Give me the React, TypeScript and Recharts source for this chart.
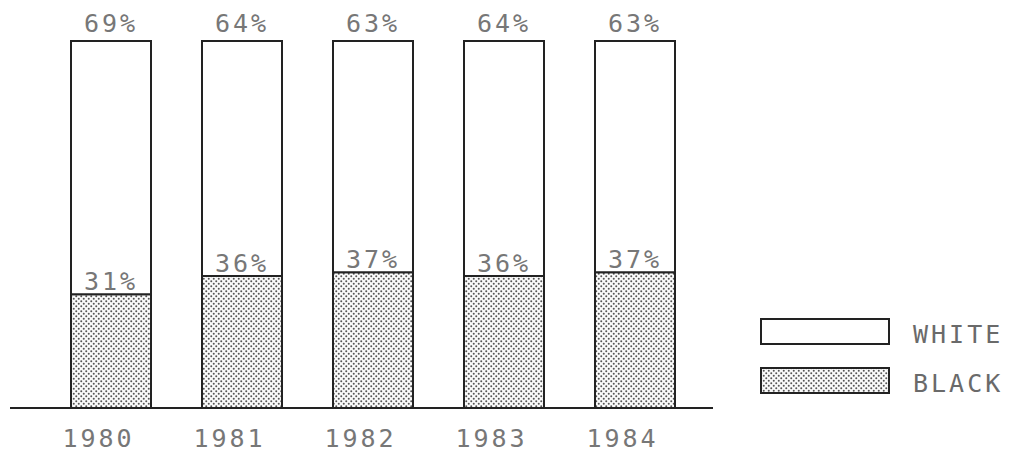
import React from 'react';
import { BarChart, Bar, XAxis, YAxis, LabelList, Legend } from 'recharts';

const years = ['1980', '1981', '1982', '1983', '1984'];
const blackShare = [31, 36, 37, 36, 37];
const whiteShare = [69, 64, 63, 64, 63];
const legendOrder = ['WHITE', 'BLACK'];

const data = years.map((y, i) => ({ year: y, BLACK: blackShare[i], WHITE: whiteShare[i] }));

const FONT = '"DejaVu Sans Mono", "Liberation Mono", monospace';
const TEXT_COLOR = '#777777';
const fills: Record<string, string> = { WHITE: '#ffffff', BLACK: 'url(#dots)' };

const makeLabel = (offset: number) => (props: any) => {
  const { x, y, width, value } = props;
  return (
    <text
      x={Number(x) + Number(width) / 2}
      y={Number(y) - offset}
      textAnchor="middle"
      fontFamily={FONT}
      fontSize={25}
      letterSpacing={3}
      fill={TEXT_COLOR}
    >
      {value}%
    </text>
  );
};

const YearTick = (props: any) => {
  const { x, y, payload } = props;
  return (
    <text
      x={Number(x) - 12}
      y={Number(y) + 39}
      textAnchor="middle"
      fontFamily={FONT}
      fontSize={25}
      letterSpacing={3}
      fill={TEXT_COLOR}
    >
      {payload.value}
    </text>
  );
};

const LegendContent = () => (
  <div style={{ display: 'flex', flexDirection: 'column', gap: 22 }}>
    {legendOrder.map((name) => (
      <div key={name} style={{ display: 'flex', alignItems: 'center', height: 27 }}>
        <svg width={130} height={27} style={{ display: 'block' }}>
          <rect x={1} y={1} width={128} height={25} fill={fills[name]} stroke="#222" strokeWidth={2} />
        </svg>
        <span
          style={{
            marginLeft: 23,
            marginTop: 5,
            fontFamily: FONT,
            fontSize: 25,
            letterSpacing: 3,
            color: '#6a6a6a',
          }}
        >
          {name}
        </span>
      </div>
    ))}
  </div>
);

export default function App() {
  return (
    <div style={{ position: 'absolute', left: 0, top: 0, width: 1020, height: 455, background: '#fff' }}>
      <svg width={0} height={0} style={{ position: 'absolute' }}>
        <defs>
          <pattern id="dots" width={5} height={5} patternUnits="userSpaceOnUse">
            <rect width={5} height={5} fill="#fafafa" />
            <circle cx={1.25} cy={1.25} r={1} fill="#555" />
            <circle cx={3.75} cy={3.75} r={1} fill="#555" />
          </pattern>
        </defs>
      </svg>
      <BarChart
        width={1020}
        height={455}
        data={data}
        margin={{ top: 41, right: 307, bottom: 7, left: 10 }}
      >
        <XAxis
          dataKey="year"
          height={40}
          padding={{ left: 35, right: 13 }}
          axisLine={{ stroke: '#222', strokeWidth: 2 }}
          tickLine={false}
          tickSize={0}
          tickMargin={0}
          tick={<YearTick />}
          interval={0}
        />
        <YAxis hide domain={[0, 100]} />
        <Legend
          layout="vertical"
          align="center"
          verticalAlign="middle"
          content={<LegendContent />}
          wrapperStyle={{ left: 760, top: 318, width: 260 }}
        />
        <Bar dataKey="BLACK" stackId="a" barSize={80} fill="url(#dots)" stroke="#222" strokeWidth={2} isAnimationActive={false}>
          <LabelList dataKey="BLACK" content={makeLabel(4)} />
        </Bar>
        <Bar dataKey="WHITE" stackId="a" barSize={80} fill="#ffffff" stroke="#222" strokeWidth={2} isAnimationActive={false}>
          <LabelList dataKey="WHITE" content={makeLabel(9)} />
        </Bar>
      </BarChart>
    </div>
  );
}
